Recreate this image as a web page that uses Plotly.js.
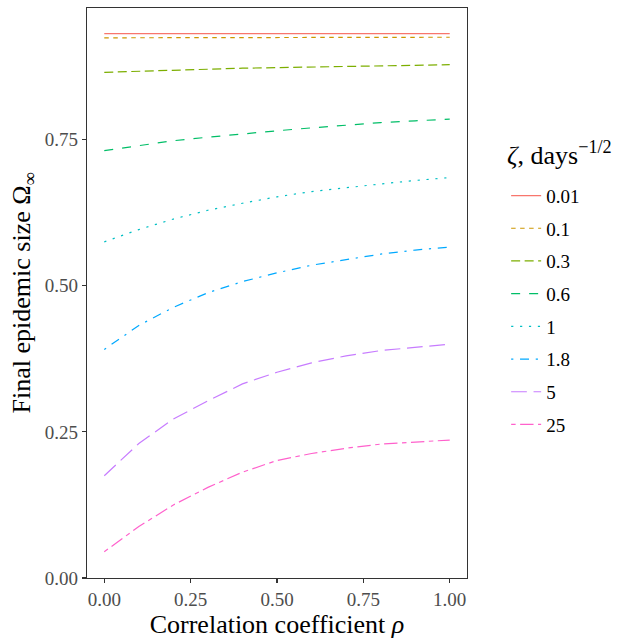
<!DOCTYPE html>
<html>
<head>
<meta charset="utf-8">
<script src="https://cdn.plot.ly/plotly-3.0.1.min.js"></script>
<style>html,body{margin:0;padding:0;background:#fff;}</style>
</head>
<body>
<div id="chart" style="width:628px;height:640px;"></div>
<script>
const rho = [0, 0.1, 0.2, 0.3, 0.4, 0.5, 0.6, 0.7, 0.8, 0.9, 1.0];
const zetaLabels = ["0.01", "0.1", "0.3", "0.6", "1", "1.8", "5", "25"];
const omega_001 = [0.931, 0.931, 0.931, 0.931, 0.931, 0.931, 0.931, 0.931, 0.931, 0.931, 0.931];
const omega_01  = [0.924, 0.924, 0.924, 0.924, 0.925, 0.925, 0.925, 0.925, 0.925, 0.925, 0.925];
const omega_03  = [0.865, 0.867, 0.869, 0.870, 0.872, 0.873, 0.874, 0.875, 0.876, 0.877, 0.878];
const omega_06  = [0.731, 0.740, 0.748, 0.754, 0.760, 0.765, 0.770, 0.775, 0.779, 0.782, 0.785];
const omega_1   = [0.575, 0.596, 0.614, 0.629, 0.641, 0.652, 0.661, 0.668, 0.674, 0.680, 0.685];
const omega_18  = [0.391, 0.432, 0.463, 0.488, 0.507, 0.522, 0.535, 0.545, 0.554, 0.561, 0.566];
const omega_5   = [0.175, 0.230, 0.272, 0.303, 0.332, 0.352, 0.368, 0.380, 0.389, 0.395, 0.400];
const omega_25  = [0.045, 0.088, 0.125, 0.155, 0.181, 0.201, 0.213, 0.222, 0.229, 0.233, 0.236];
const xTicks = [0, 0.25, 0.5, 0.75, 1.0];
const yTicks = [0, 0.25, 0.5, 0.75];

const series = [omega_001, omega_01, omega_03, omega_06, omega_1, omega_18, omega_5, omega_25];
const colors = ["#F8766D", "#CD9600", "#7CAE00", "#00BE67", "#00BFC4", "#00A9FF", "#C77CFF", "#FF61CC"];
const dashes = ["solid", "4.5px,4.5px", "9px,4.5px", "9px,9px", "2.2px,6.7px",
  "2.2px,6.7px,9px,6.7px", "15.7px,6.7px", "4.5px,4.5px,13.4px,4.5px"];

const font = "'Liberation Serif', 'DejaVu Serif', serif";
const traces = series.map((ys, i) => ({
  x: rho, y: ys, type: "scatter", mode: "lines", name: zetaLabels[i],
  legendgroup: "g" + i,
  line: {color: colors[i], width: 1.2, dash: dashes[i]}
}));

const layout = {
  width: 628, height: 640,
  margin: {l: 87, r: 161, t: 8, b: 62},
  paper_bgcolor: "#fff", plot_bgcolor: "#fff",
  font: {family: font, size: 19, color: "#000"},
  showlegend: true,
  legend: {
    x: 1.103, xanchor: "left", y: 0.704, yanchor: "top",
    font: {family: font, size: 19, color: "#000"},
    tracegroupgap: 5, bgcolor: "rgba(0,0,0,0)"
  },
  annotations: [{
    xref: "paper", yref: "paper", x: 1.1, y: 0.745, xanchor: "left", yanchor: "middle",
    showarrow: false, text: "<i>ζ</i>, days<sup>−1/2</sup>",
    font: {family: font, size: 26, color: "#000"}
  }],
  xaxis: {
    range: [-0.05, 1.05], tickvals: xTicks, tickformat: ".2f",
    showgrid: false, zeroline: false,
    showline: true, mirror: true, linecolor: "#333333", linewidth: 1.1,
    ticks: "outside", ticklen: 4, tickwidth: 1.1, tickcolor: "#333333",
    tickfont: {family: font, size: 19, color: "#4D4D4D"},
    title: {text: "Correlation coefficient <i>ρ</i>", font: {family: font, size: 26, color: "#000"}, standoff: 0}
  },
  yaxis: {
    range: [0, 0.975], tickvals: yTicks, tickformat: ".2f",
    showgrid: false, zeroline: false,
    showline: true, mirror: true, linecolor: "#333333", linewidth: 1.1,
    ticks: "outside", ticklen: 4, tickwidth: 1.1, tickcolor: "#333333",
    tickfont: {family: font, size: 19, color: "#4D4D4D"},
    title: {text: "Final epidemic size Ω<sub>∞</sub>", font: {family: font, size: 26, color: "#000"}, standoff: 6}
  }
};

Plotly.newPlot("chart", traces, layout, {displayModeBar: false, staticPlot: true});
</script>
</body>
</html>
